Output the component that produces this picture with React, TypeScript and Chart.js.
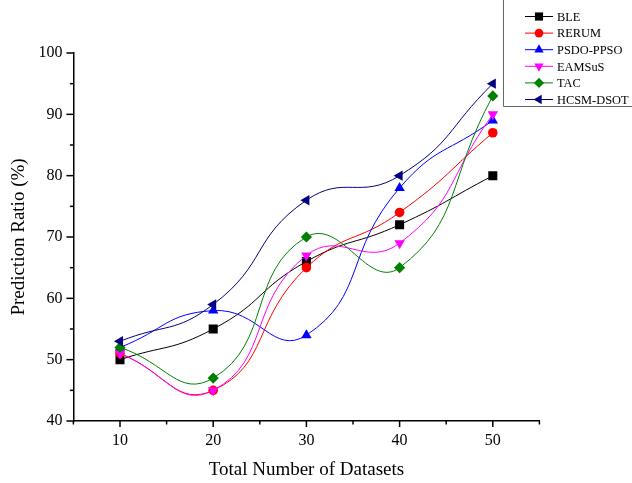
import React, { useEffect, useRef } from "react";
import { Chart, registerables } from "chart.js";

Chart.register(...registerables);

const datasetsX = [10, 20, 30, 40, 50];
const seriesNames = ["BLE", "RERUM", "PSDO-PPSO", "EAMSuS", "TAC", "HCSM-DSOT"];
const ble = [50, 55, 66, 72, 80];
const rerum = [51, 45, 65, 74, 87];
const psdo = [52, 58, 54, 78, 89];
const eamsus = [51, 45, 67, 69, 90];
const tac = [52, 47, 70, 65, 93];
const hcsm = [53, 59, 76, 80, 95];
const seriesValues = [ble, rerum, psdo, eamsus, tac, hcsm];
const seriesColors = ["#000000", "#FF0000", "#0000FF", "#FF00FF", "#008000", "#000080"];
const seriesMarkers = ["rect", "circle", "triangle", "triangle", "rectRot", "triangle"];
const seriesRotations = [0, 0, 0, 180, 0, 270];
const seriesRadius = [6.4, 4.8, 6, 6, 5.6, 6];

const FONT = "'Liberation Serif', 'Times New Roman', serif";

function drawMarker(ctx: CanvasRenderingContext2D, style: string, x: number, y: number, r: number, rot: number, color: string) {
  ctx.save();
  ctx.fillStyle = color;
  ctx.beginPath();
  const rad = (rot * Math.PI) / 180;
  if (style === "rect") {
    const s = Math.SQRT1_2 * r;
    ctx.rect(x - s, y - s, 2 * s, 2 * s);
  } else if (style === "circle") {
    ctx.arc(x, y, r, 0, Math.PI * 2);
  } else if (style === "triangle") {
    let a = rad;
    ctx.moveTo(x + Math.sin(a) * r, y - Math.cos(a) * r);
    a += (2 * Math.PI) / 3;
    ctx.lineTo(x + Math.sin(a) * r, y - Math.cos(a) * r);
    a += (2 * Math.PI) / 3;
    ctx.lineTo(x + Math.sin(a) * r, y - Math.cos(a) * r);
    ctx.closePath();
  } else if (style === "rectRot") {
    ctx.moveTo(x, y - r);
    ctx.lineTo(x + r, y);
    ctx.lineTo(x, y + r);
    ctx.lineTo(x - r, y);
    ctx.closePath();
  }
  ctx.fill();
  ctx.restore();
}

const ticksAndLegend = {
  id: "ticksAndLegend",
  afterDraw(chart: any) {
    const ctx = chart.ctx as CanvasRenderingContext2D;
    const xs = chart.scales.x;
    const ys = chart.scales.y;
    const area = chart.chartArea;
    ctx.save();
    ctx.strokeStyle = "#000";
    ctx.lineWidth = 1.5;
    for (let v = 5; v <= 55; v += 5) {
      const px = xs.getPixelForValue(v);
      const len = v % 10 === 0 ? 6 : 3.5;
      ctx.beginPath();
      ctx.moveTo(px, area.bottom);
      ctx.lineTo(px, area.bottom + len);
      ctx.stroke();
    }
    for (let v = 40; v <= 100; v += 5) {
      const py = ys.getPixelForValue(v);
      const len = v % 10 === 0 ? 7 : 3.5;
      ctx.beginPath();
      ctx.moveTo(area.left, py);
      ctx.lineTo(area.left - len, py);
      ctx.stroke();
    }
    // legend box
    ctx.strokeStyle = "#666";
    ctx.lineWidth = 1;
    ctx.beginPath();
    ctx.moveTo(503.5, 0);
    ctx.lineTo(503.5, 106.5);
    ctx.lineTo(632, 106.5);
    ctx.stroke();
    ctx.font = `12.4px ${FONT}`;
    ctx.textBaseline = "middle";
    ctx.textAlign = "left";
    chart.data.datasets.forEach((ds: any, i: number) => {
      const y = 16.5 + i * 16.6;
      ctx.strokeStyle = seriesColors[i];
      ctx.lineWidth = 1;
      ctx.beginPath();
      ctx.moveTo(525, y);
      ctx.lineTo(553, y);
      ctx.stroke();
      drawMarker(ctx, seriesMarkers[i], 539, y, seriesRadius[i] * 0.9, seriesRotations[i], seriesColors[i]);
      ctx.fillStyle = "#000";
      ctx.fillText(ds.label, 557, y + 1);
    });
    ctx.restore();
  },
};

export default function App() {
  const ref = useRef<HTMLCanvasElement | null>(null);
  useEffect(() => {
    if (!ref.current) return;
    const chart = new Chart(ref.current, {
      type: "line",
      data: {
        datasets: seriesNames.map((name, i) => ({
          label: name,
          data: datasetsX.map((x, j) => ({ x, y: seriesValues[i][j] })),
          borderColor: seriesColors[i],
          backgroundColor: seriesColors[i],
          borderWidth: 1,
          pointStyle: seriesMarkers[i] as any,
          rotation: seriesRotations[i],
          pointRadius: seriesRadius[i],
          pointBorderWidth: 0,
          tension: 0.5,
          fill: false,
          order: 5 - i,
        })),
      },
      options: {
        responsive: false,
        animation: false,
        layout: { padding: { top: 53, right: 92.6, left: 0, bottom: 0 } },
        plugins: { legend: { display: false }, tooltip: { enabled: false } },
        scales: {
          x: {
            type: "linear",
            min: 5,
            max: 55,
            afterFit: (s: any) => { s.height = 62; },
            grid: { display: true, drawOnChartArea: false, drawTicks: true, tickLength: 6, color: "rgba(0,0,0,0)" },
            border: { display: true, color: "#000", width: 1.5 },
            ticks: {
              stepSize: 5,
              autoSkip: false,
              maxRotation: 0,
              padding: 4,
              color: "#000",
              font: { family: FONT, size: 16 },
              callback: (v: any) => (Number(v) % 10 === 0 ? String(v) : ""),
            },
            title: { display: true, text: "Total Number of Datasets", color: "#000", font: { family: FONT, size: 19 }, padding: { top: 0, bottom: 2 } },
          },
          y: {
            min: 40,
            max: 100,
            afterFit: (s: any) => { s.width = 73.4; },
            grid: { display: true, drawOnChartArea: false, drawTicks: true, tickLength: 6, color: "rgba(0,0,0,0)" },
            border: { display: true, color: "#000", width: 1.5 },
            ticks: {
              stepSize: 5,
              autoSkip: false,
              padding: 5,
              color: "#000",
              font: { family: FONT, size: 16 },
              callback: (v: any) => (Number(v) % 10 === 0 ? String(v) : ""),
            },
            title: { display: true, text: "Prediction Ratio (%)", color: "#000", font: { family: FONT, size: 19 }, padding: { top: 8, bottom: 0 } },
          },
        },
      },
      plugins: [ticksAndLegend],
    });
    return () => chart.destroy();
  }, []);
  return (
    <div style={{ position: "fixed", left: 0, top: 0, width: 632, height: 483, background: "#fff" }}>
      <canvas ref={ref} width={632} height={483} style={{ width: 632, height: 483, display: "block" }} />
    </div>
  );
}
